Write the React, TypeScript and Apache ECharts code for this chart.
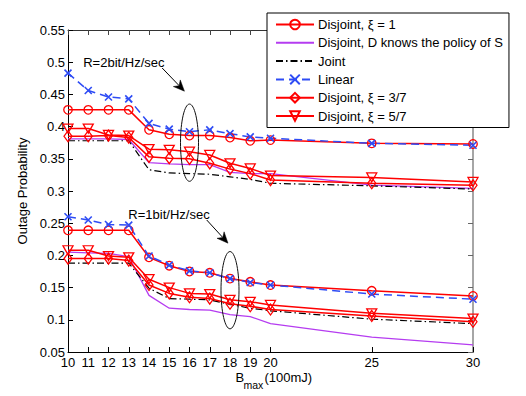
import React, { useEffect, useRef } from 'react';
import * as echarts from 'echarts';

// ---- data ----
const bMax = [10, 11, 12, 13, 14, 15, 16, 17, 18, 19, 20, 25, 30];

// R = 2 bit/Hz/sec
const disjoint1R2 = [0.426, 0.426, 0.426, 0.426, 0.395, 0.388, 0.386, 0.386, 0.383, 0.378, 0.379, 0.374, 0.373];
const knowsPolicyR2 = [0.381, 0.381, 0.381, 0.380, 0.344, 0.342, 0.341, 0.341, 0.329, 0.327, 0.327, 0.309, 0.304];
const jointR2 = [0.378, 0.378, 0.378, 0.378, 0.333, 0.328, 0.327, 0.326, 0.322, 0.318, 0.312, 0.308, 0.303];
const linearR2 = [0.483, 0.456, 0.446, 0.443, 0.405, 0.396, 0.392, 0.395, 0.389, 0.384, 0.382, 0.374, 0.371];
const disjoint37R2 = [0.385, 0.385, 0.386, 0.383, 0.353, 0.351, 0.350, 0.343, 0.334, 0.327, 0.317, 0.312, 0.309];
const disjoint57R2 = [0.397, 0.397, 0.387, 0.386, 0.365, 0.364, 0.361, 0.356, 0.343, 0.335, 0.324, 0.321, 0.314];

// R = 1 bit/Hz/sec
const disjoint1R1 = [0.239, 0.239, 0.239, 0.239, 0.197, 0.184, 0.175, 0.173, 0.164, 0.159, 0.154, 0.145, 0.137];
const knowsPolicyR1 = [0.205, 0.204, 0.203, 0.198, 0.138, 0.118, 0.116, 0.115, 0.108, 0.105, 0.094, 0.073, 0.061];
const jointR1 = [0.188, 0.188, 0.188, 0.188, 0.149, 0.133, 0.132, 0.131, 0.124, 0.118, 0.114, 0.101, 0.094];
const linearR1 = [0.260, 0.255, 0.248, 0.247, 0.199, 0.185, 0.176, 0.173, 0.164, 0.158, 0.154, 0.140, 0.132];
const disjoint37R1 = [0.195, 0.195, 0.195, 0.192, 0.154, 0.141, 0.135, 0.133, 0.125, 0.121, 0.116, 0.106, 0.097];
const disjoint57R1 = [0.208, 0.208, 0.199, 0.197, 0.163, 0.150, 0.141, 0.140, 0.131, 0.128, 0.123, 0.110, 0.102];

const legendNames = [
  'Disjoint, ξ = 1',
  'Disjoint, D knows the policy of S',
  'Joint',
  'Linear',
  'Disjoint, ξ = 3/7',
  'Disjoint, ξ = 5/7',
];

// annotation anchors in data coordinates
const ann2Text = [10.75, 0.5];
const ann2Arrow = [[14.65, 0.491], [15.75, 0.455]];
const ann2Ellipse = [16, 0.375, 0.06];
const ann1Text = [12.98, 0.264];
const ann1Arrow = [[16.85, 0.255], [17.9, 0.219]];
const ann1Ellipse = [18, 0.146, 0.06];

const FONT = '"Liberation Sans", Arial, Helvetica, sans-serif';
const RED = '#ff0000';
const BLUE = '#2e4cf5';
const PURPLE = '#b53cf0';
const CLEAR = 'rgba(255,255,255,0)';

const pair = (ys: number[]) => bMax.map((x, i) => [x, ys[i]]);

const styles: Record<string, any> = {
  [legendNames[0]]: {
    symbol: 'circle', symbolSize: 8.5,
    itemStyle: { color: CLEAR, borderColor: RED, borderWidth: 1.3 },
    lineStyle: { color: RED, width: 1.5 },
  },
  [legendNames[1]]: {
    symbol: 'none',
    itemStyle: { color: CLEAR, borderWidth: 0 },
    lineStyle: { color: PURPLE, width: 1.3 },
  },
  [legendNames[2]]: {
    symbol: 'none',
    itemStyle: { color: CLEAR, borderWidth: 0 },
    lineStyle: { color: '#000', width: 1.2, type: [7, 3, 1.5, 3] },
  },
  [legendNames[3]]: {
    symbol: 'path://M0 0L10 10M10 0L0 10', symbolSize: 7,
    itemStyle: { color: CLEAR, borderColor: BLUE, borderWidth: 1.6 },
    lineStyle: { color: BLUE, width: 1.5, type: [8, 5] },
  },
  [legendNames[4]]: {
    symbol: 'diamond', symbolSize: [8, 11],
    itemStyle: { color: CLEAR, borderColor: RED, borderWidth: 1.3 },
    lineStyle: { color: RED, width: 1.5 },
  },
  [legendNames[5]]: {
    symbol: 'triangle', symbolSize: [10, 9], symbolRotate: 180,
    itemStyle: { color: CLEAR, borderColor: RED, borderWidth: 1.3 },
    lineStyle: { color: RED, width: 1.5 },
  },
};

const groups: [string, number[], number[]][] = [
  [legendNames[0], disjoint1R2, disjoint1R1],
  [legendNames[1], knowsPolicyR2, knowsPolicyR1],
  [legendNames[2], jointR2, jointR1],
  [legendNames[3], linearR2, linearR1],
  [legendNames[4], disjoint37R2, disjoint37R1],
  [legendNames[5], disjoint57R2, disjoint57R1],
];

function arrow(p0: number[], p1: number[]) {
  const dx = p1[0] - p0[0];
  const dy = p1[1] - p0[1];
  const len = Math.sqrt(dx * dx + dy * dy);
  const ux = dx / len, uy = dy / len;
  const px = -uy, py = ux;
  const hl = 11, hw = 4.8;
  const bx = p1[0] - ux * hl, by = p1[1] - uy * hl;
  const ix = p1[0] - ux * hl * 0.7, iy = p1[1] - uy * hl * 0.7;
  return [
    {
      type: 'line',
      shape: { x1: p0[0], y1: p0[1], x2: ix, y2: iy },
      style: { stroke: '#000', lineWidth: 1 },
      z: 10,
    },
    {
      type: 'polygon',
      shape: {
        points: [
          [p1[0], p1[1]],
          [bx + px * hw, by + py * hw],
          [ix, iy],
          [bx - px * hw, by - py * hw],
        ],
      },
      style: { fill: '#000', stroke: '#000', lineWidth: 0.5 },
      z: 10,
    },
  ];
}

export default function App() {
  const ref = useRef<HTMLDivElement>(null);

  useEffect(() => {
    const chart = echarts.init(ref.current!, null, { renderer: 'svg' });
    const series: any[] = [];
    groups.forEach(([name, r2, r1]) => {
      series.push({ type: 'line', name, data: pair(r2), ...styles[name], z: 3 });
      series.push({ type: 'line', name, data: pair(r1), ...styles[name], z: 3 });
    });

    const axisText = { color: '#000', fontSize: 13, fontFamily: FONT };

    chart.setOption({
      animation: false,
      backgroundColor: '#fff',
      textStyle: { fontFamily: FONT },
      grid: { left: 68, right: 53, top: 30, bottom: 44 },
      legend: {
        data: legendNames,
        orient: 'vertical',
        left: 267,
        top: 13,
        width: 234,
        padding: [5, 6, 5, 8],
        itemWidth: 38,
        itemHeight: 12,
        itemGap: 5.3,
        backgroundColor: '#fff',
        borderColor: '#000',
        borderWidth: 1,
        borderRadius: 0,
        selectedMode: false,
        textStyle: { color: '#000', fontSize: 13, fontFamily: FONT, padding: [0, 0, 0, -1] },
        z: 20,
      },
      xAxis: [
        {
          type: 'value', min: 10, max: 30, position: 'bottom',
          axisLine: { show: true, lineStyle: { color: '#000', width: 1 } },
          axisTick: { show: true, inside: true, length: 5, customValues: bMax, lineStyle: { color: '#000' } },
          axisLabel: { customValues: bMax, margin: 4, ...axisText },
          splitLine: { show: false },
        },
        {
          type: 'value', min: 10, max: 30, position: 'top',
          axisLine: { show: true, lineStyle: { color: '#333', width: 1 } },
          axisTick: { show: true, inside: true, length: 5, customValues: bMax, lineStyle: { color: '#444' } },
          axisLabel: { show: false },
          splitLine: { show: false },
        },
      ],
      yAxis: [
        {
          type: 'value', min: 0.05, max: 0.55, interval: 0.05, position: 'left',
          name: 'Outage Probability', nameLocation: 'middle', nameGap: 29,
          nameTextStyle: { ...axisText },
          axisLine: { show: true, lineStyle: { color: '#000', width: 1 } },
          axisTick: { show: true, inside: true, length: 5, lineStyle: { color: '#000' } },
          axisLabel: { margin: 3, ...axisText, formatter: (v: number) => String(parseFloat(v.toFixed(2))) },
          splitLine: { show: false },
        },
        {
          type: 'value', min: 0.05, max: 0.55, interval: 0.05, position: 'right',
          axisLine: { show: true, lineStyle: { color: '#888', width: 1.5 } },
          axisTick: { show: true, inside: true, length: 5, lineStyle: { color: '#666' } },
          axisLabel: { show: false },
          splitLine: { show: false },
        },
      ],
      series,
    });

    const toPx = (p: number[]) => chart.convertToPixel({ gridIndex: 0 } as any, p) as number[];
    const ellipse = (e: number[]) => {
      const c = toPx([e[0], e[1]]);
      const t = toPx([e[0], e[1] + e[2]]);
      return {
        type: 'ellipse',
        shape: { cx: c[0], cy: c[1], rx: 9, ry: Math.abs(c[1] - t[1]) },
        style: { fill: 'none', stroke: '#111', lineWidth: 1 },
        z: 10,
      };
    };
    const label = (p: number[], text: string) => {
      const q = toPx(p);
      return {
        type: 'text', x: q[0], y: q[1], z: 10,
        style: { text, fill: '#000', fontSize: 13, fontFamily: FONT, verticalAlign: 'middle', align: 'left' },
      };
    };

    const x0 = toPx([10, 0.05]);
    const x1 = toPx([30, 0.05]);
    const cx = (x0[0] + x1[0]) / 2;
    const baseY = x0[1] + 25;

    chart.setOption({
      graphic: [
        label(ann2Text, 'R=2bit/Hz/sec'),
        ...arrow(toPx(ann2Arrow[0]), toPx(ann2Arrow[1])),
        ellipse(ann2Ellipse),
        label(ann1Text, 'R=1bit/Hz/sec'),
        ...arrow(toPx(ann1Arrow[0]), toPx(ann1Arrow[1])),
        ellipse(ann1Ellipse),
        {
          type: 'text', x: cx - 35, y: baseY, z: 10,
          style: { text: 'B', fill: '#000', fontSize: 13, fontFamily: FONT, verticalAlign: 'middle', align: 'left' },
        },
        {
          type: 'text', x: cx - 27, y: baseY + 8, z: 10,
          style: { text: 'max', fill: '#000', fontSize: 10.5, fontFamily: FONT, verticalAlign: 'middle', align: 'left' },
        },
        {
          type: 'text', x: cx - 6, y: baseY, z: 10,
          style: { text: '(100mJ)', fill: '#000', fontSize: 13, fontFamily: FONT, verticalAlign: 'middle', align: 'left' },
        },
      ],
    });

    return () => chart.dispose();
  }, []);

  return (
    <div
      ref={ref}
      style={{ position: 'fixed', left: 0, top: 0, width: 526, height: 396, background: '#fff' }}
    />
  );
}
